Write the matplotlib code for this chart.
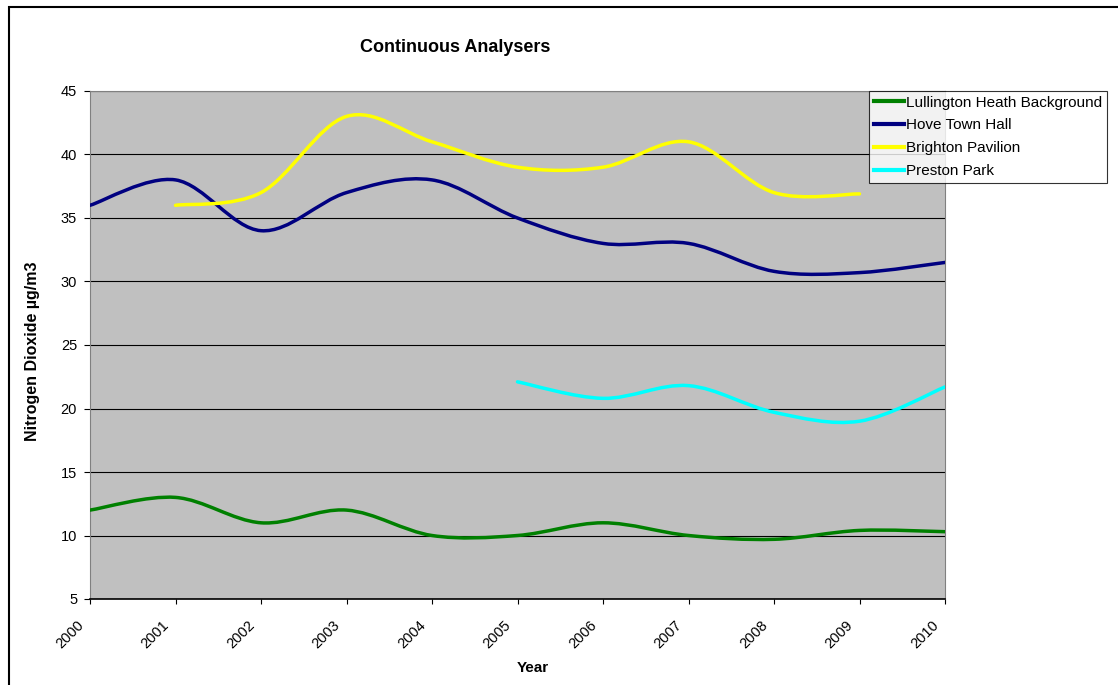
import numpy as np
import matplotlib.pyplot as plt
import matplotlib.transforms as mtrans
from matplotlib.path import Path
from matplotlib.patches import PathPatch, Rectangle
from matplotlib.lines import Line2D

plt.rcParams['font.family'] = ['Liberation Sans', 'DejaVu Sans']

years = [2000, 2001, 2002, 2003, 2004, 2005, 2006, 2007, 2008, 2009, 2010]
lullington = [12, 13, 11, 12, 10, 10, 11, 10, 9.7, 10.4, 10.3]
hove = [36, 38, 34, 37, 38, 35, 33, 33, 30.8, 30.7, 31.5]
brighton_years = [2001, 2002, 2003, 2004, 2005, 2006, 2007, 2008, 2009]
brighton = [36, 37, 43, 41, 39, 39, 41, 37, 36.9]
preston_years = [2005, 2006, 2007, 2008, 2009, 2010]
preston = [22.1, 20.8, 21.8, 19.7, 19.0, 21.7]

names = ['Lullington Heath Background', 'Hove Town Hall', 'Brighton Pavilion', 'Preston Park']
colors = ['#008000', '#000080', '#FFFF00', '#00FFFF']


def smooth_path(xs, ys):
    # Excel-style smoothed line: cubic Bezier segments through each point
    p = np.column_stack([xs, ys]).astype(float)
    n = len(p)
    verts = [p[0]]
    codes = [Path.MOVETO]
    for i in range(n - 1):
        prev = p[i - 1] if i > 0 else p[i]
        nxt = p[i + 2] if i + 2 < n else p[i + 1]
        c1 = p[i] + (p[i + 1] - prev) / 6
        c2 = p[i + 1] - (nxt - p[i]) / 6
        verts += [c1, c2, p[i + 1]]
        codes += [Path.CURVE4] * 3
    return Path(verts, codes)


fig = plt.figure(figsize=(11.18, 6.85), dpi=100)
ax = fig.add_axes([90 / 1118, 1 - 599 / 685, (945 - 90) / 1118, (599 - 91) / 685])
ax.set_facecolor('#C0C0C0')

series = [(years, lullington), (years, hove), (brighton_years, brighton), (preston_years, preston)]
for (xs, ys), c in zip(series, colors):
    ax.add_patch(PathPatch(smooth_path(xs, ys), facecolor='none', edgecolor=c,
                           lw=2.5, capstyle='round', joinstyle='round', zorder=3))

ax.set_xlim(2000, 2010)
ax.set_ylim(5, 45)
ax.set_xticks(years)
ax.set_xticklabels([str(y) for y in years], rotation=45, ha='right', va='top',
                   rotation_mode='anchor', fontsize=10.5)
ax.set_yticks(range(5, 50, 5))
ax.tick_params(axis='y', labelsize=10.5, length=4.3, pad=5, direction='out')
ax.tick_params(axis='x', length=3.5, pad=0, direction='out')
shift = mtrans.ScaledTranslation(-0.134, -0.14, fig.dpi_scale_trans)
for lab in ax.get_xticklabels():
    lab.set_transform(lab.get_transform() + shift)
ax.grid(axis='y', color='black', lw=0.8)
ax.set_axisbelow(True)
for s in ['top', 'right', 'left']:
    ax.spines[s].set_color('#808080')
ax.spines['bottom'].set_color('black')
ax.spines['bottom'].set_linewidth(1.2)

fig.text(533 / 1118, 1 - 668 / 685, 'Year', ha='center', va='center',
         fontsize=11, fontweight='bold')
fig.text(33 / 1118, 1 - 351 / 685, 'Nitrogen Dioxide µg/m3', ha='center', va='center',
         rotation=90, fontsize=11.5, fontweight='bold')
fig.text(455 / 1118, 1 - 48 / 685, 'Continuous Analysers', ha='center', va='center',
         fontsize=13, fontweight='bold')

handles = [Line2D([], [], color=c, lw=3) for c in colors]
leg = fig.legend(handles, names, loc='upper left', bbox_to_anchor=(869 / 1118, 1 - 91 / 685),
                 fontsize=11, frameon=True, fancybox=False, edgecolor='black',
                 handlelength=2.0, handletextpad=0.15, borderpad=0.3, labelspacing=0.58,
                 borderaxespad=0)
leg.get_frame().set_linewidth(0.8)

fig.patches.append(Rectangle((9 / 1118, -0.1), 1.2, 1 - 7 / 685 + 0.1, transform=fig.transFigure,
                             fill=False, edgecolor='black', lw=1.5))

fig.savefig('out.png', dpi=100)
